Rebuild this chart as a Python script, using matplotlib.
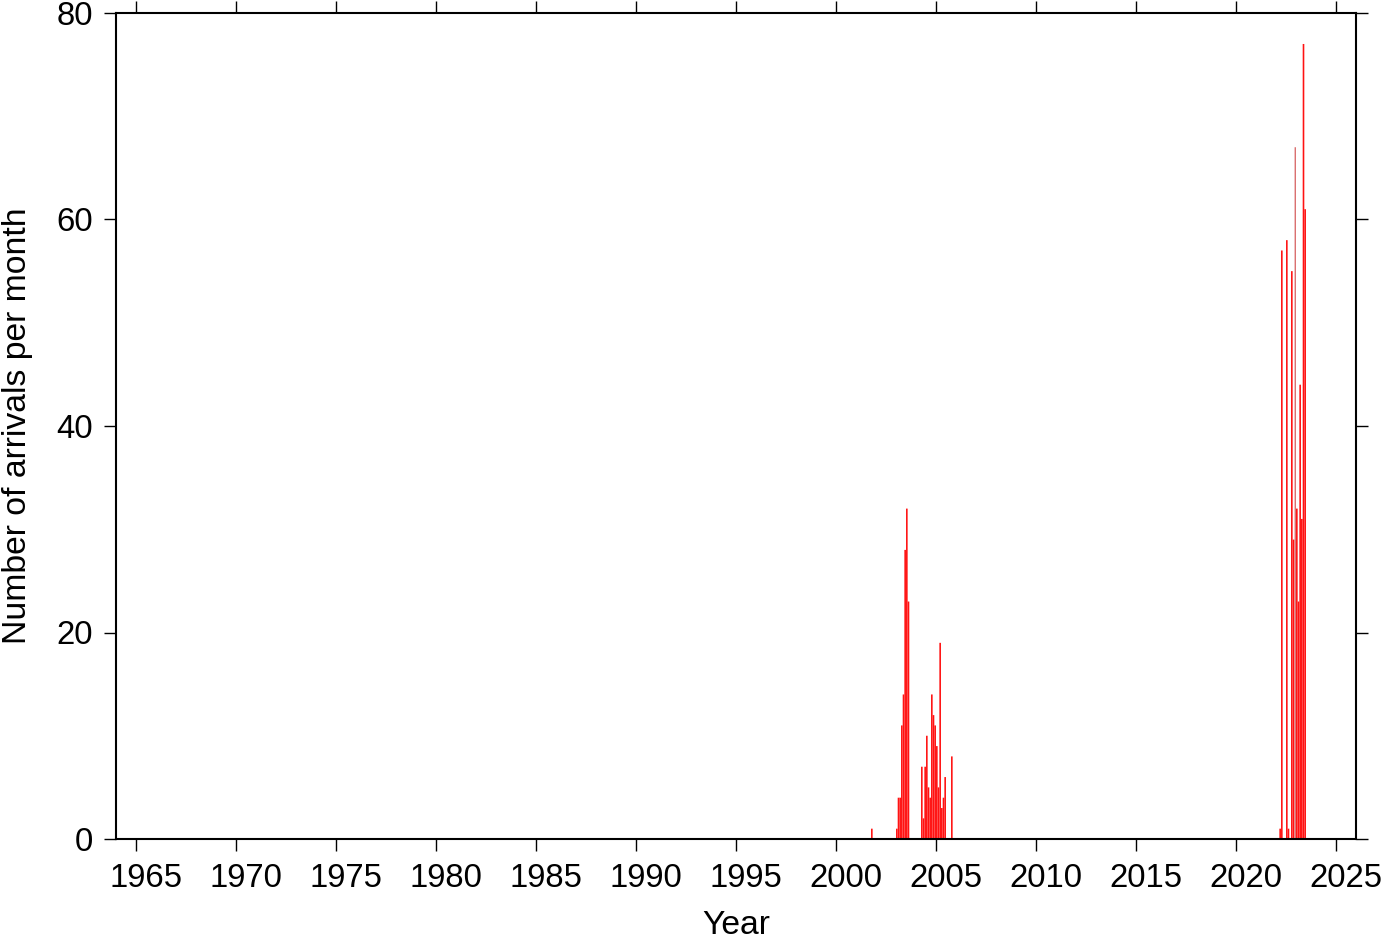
import matplotlib
matplotlib.use("Agg")
import matplotlib.pyplot as plt
import numpy as np

# Monthly arrival counts (month = 'YYYY-MM')
months = ['2001-10',
          '2003-01', '2003-02', '2003-03', '2003-04', '2003-05', '2003-06', '2003-07', '2003-08',
          '2004-04', '2004-05', '2004-06', '2004-07', '2004-08', '2004-09', '2004-10', '2004-11',
          '2004-12', '2005-01', '2005-02', '2005-03', '2005-04', '2005-05', '2005-06', '2005-10',
          '2022-03', '2022-04', '2022-07', '2022-08', '2022-10', '2022-11', '2022-12',
          '2023-01', '2023-02', '2023-03', '2023-04', '2023-05', '2023-06']
counts = [1,
          1, 4, 4, 11, 14, 28, 32, 23,
          7, 2, 7, 10, 5, 4, 14, 12,
          11, 9, 5, 19, 3, 4, 6, 8,
          1, 57, 58, 1, 55, 29, 67,
          32, 23, 44, 31, 77, 61]

x_ticks = [1965, 1970, 1975, 1980, 1985, 1990, 1995, 2000, 2005, 2010, 2015, 2020, 2025]
y_ticks = [0, 20, 40, 60, 80]
x_label = 'Year'
y_label = 'Number of arrivals per month'

plt.rcParams['font.family'] = ['Liberation Sans', 'DejaVu Sans']

fig = plt.figure(figsize=(13.82, 9.42), dpi=100)
ax = fig.add_axes([116/1382, 1 - 839/942, 1240/1382, 826/942])

starts = np.array([int(m[:4]) + (int(m[5:]) - 1) / 12.0 for m in months])
vals = np.array(counts, dtype=float)

thin = np.array([m == '2022-12' for m in months])
normal = ~thin
b1 = ax.bar(starts[normal] + 0.5 / 12, vals[normal], width=0.97 / 12, align='center',
            color='#ff1212', linewidth=0, zorder=2)
b2 = ax.bar(starts[thin] + 0.5 / 12, vals[thin], width=0.5 / 12, align='center',
            color='#c00c0c', linewidth=0, zorder=2)
for p in list(b1) + list(b2):
    p.set_snap(False)
    p.set_antialiased(True)

ax.set_xlim(1964, 2026)
ax.set_ylim(0, 80)
ax.set_xticks(x_ticks)
ax.set_xticklabels([])
# year annotations are centred on the year interval
ax.set_xticks([t + 0.5 for t in x_ticks], minor=True)
ax.set_xticklabels([str(t) for t in x_ticks], minor=True)
ax.set_yticks(y_ticks)
ax.tick_params(axis='both', which='major', direction='out', length=8.5, width=1.0,
               top=True, right=True, labelsize=23.7, color='black')
ax.tick_params(axis='x', which='minor', length=0, labelsize=23.7, pad=17.0)
ax.tick_params(axis='y', pad=8)
for sp in ax.spines.values():
    sp.set_linewidth(1.5)
    sp.set_zorder(3)

ax.set_xlabel(x_label, fontsize=24.3)
ax.set_ylabel(y_label, fontsize=24.3)
ax.xaxis.set_label_coords(0.5, -0.0862)
ax.yaxis.set_label_coords(-0.0669, 0.5)

fig.savefig('out.png', dpi=100)
